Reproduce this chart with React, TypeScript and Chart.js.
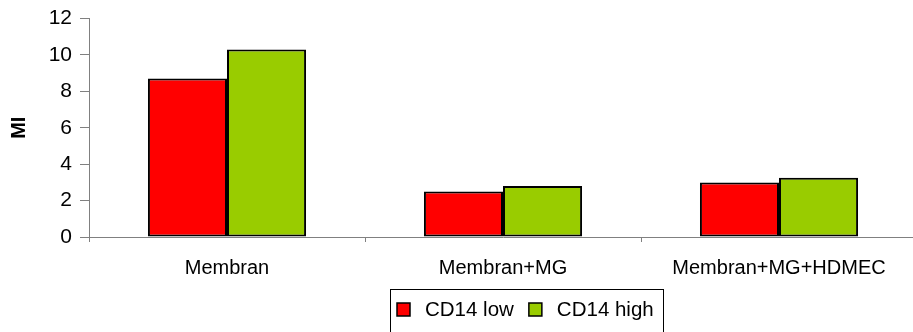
import React, { useEffect, useRef } from "react";
import { Chart, registerables } from "chart.js";

Chart.register(...registerables);

const categories = ["Membran", "Membran+MG", "Membran+MG+HDMEC"];
const cd14Low = [8.7, 2.5, 3.0];
const cd14High = [10.3, 2.8, 3.25];
const seriesNames = ["CD14 low", "CD14 high"];
const seriesColors = ["#FF0000", "#99CC00"];
const yAxisTitle = "MI";

const FONT = "'Liberation Sans', Arial, sans-serif";

// Boxed legend below the x axis, built from the datasets' labels and colours.
const framedLegend = {
  id: "framedLegend",
  afterDraw(chart: any) {
    const ctx = chart.ctx;
    const left = 390;
    const top = 289;
    const height = 43;
    const sq = 13;
    const gap = 15;
    ctx.save();
    ctx.font = `20.5px ${FONT}`;
    ctx.textBaseline = "middle";
    ctx.textAlign = "left";
    let x = left + 7;
    const cy = top + 20.5;
    chart.data.datasets.forEach((ds: any, i: number) => {
      if (i > 0) x += gap;
      ctx.fillStyle = ds.backgroundColor;
      ctx.fillRect(x, cy - sq / 2, sq, sq);
      ctx.strokeStyle = "#000";
      ctx.lineWidth = 1.5;
      ctx.strokeRect(x, cy - sq / 2, sq, sq);
      x += sq + gap;
      ctx.fillStyle = "#000";
      ctx.fillText(ds.label, x, cy + 1);
      x += ctx.measureText(ds.label).width;
    });
    const right = x + 9;
    ctx.strokeStyle = "#000";
    ctx.lineWidth = 1;
    ctx.strokeRect(left + 0.5, top + 0.5, Math.round(right - left), height);
    ctx.restore();
  },
};

export default function App() {
  const ref = useRef<HTMLCanvasElement | null>(null);

  useEffect(() => {
    if (!ref.current) return;
    const chart = new Chart(ref.current, {
      type: "bar",
      data: {
        labels: categories,
        datasets: [
          {
            label: seriesNames[0],
            data: cd14Low,
            backgroundColor: seriesColors[0],
            borderColor: "#000",
            borderWidth: 2,
            borderSkipped: false,
          },
          {
            label: seriesNames[1],
            data: cd14High,
            backgroundColor: seriesColors[1],
            borderColor: "#000",
            borderWidth: 2,
            borderSkipped: false,
          },
        ],
      },
      options: {
        animation: false,
        responsive: true,
        maintainAspectRatio: false,
        layout: { padding: { top: 17, right: 8, left: 0, bottom: 43 } },
        datasets: { bar: { categoryPercentage: 0.573, barPercentage: 1 } },
        plugins: {
          tooltip: { enabled: false },
          legend: { display: false },
        },
        scales: {
          x: {
            grid: { drawOnChartArea: false, tickLength: 5, color: "#808080", offset: true },
            border: { color: "#808080", width: 1 },
            ticks: { color: "#000", font: { family: FONT, size: 20 }, padding: 14, maxRotation: 0 },
            afterFit(scale: any) {
              scale.height = 52;
            },
          },
          y: {
            min: 0,
            max: 12,
            ticks: {
              stepSize: 2,
              color: "#000",
              font: { family: FONT, size: 21, lineHeight: 1 },
              padding: 8,
            },
            grid: { drawOnChartArea: false, tickLength: 9, color: "#808080" },
            border: { color: "#808080", width: 1 },
            title: {
              display: true,
              text: yAxisTitle,
              color: "#000",
              font: { family: FONT, size: 20, weight: "bold" },
              padding: { top: 7, bottom: 0 },
            },
            afterFit(scale: any) {
              scale.width = 89;
            },
          },
        },
      },
      plugins: [framedLegend],
    });
    return () => chart.destroy();
  }, []);

  return (
    <div style={{ position: "fixed", left: 0, top: 0, width: 925, height: 332, background: "#fff" }}>
      <canvas ref={ref} />
    </div>
  );
}
